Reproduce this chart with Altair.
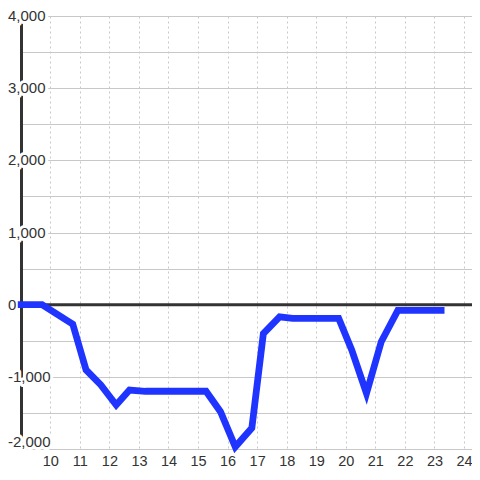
import altair as alt
import pandas as pd

hours = [8.9, 9.72, 10.76, 11.21, 11.71, 12.23, 12.68, 13.22, 15.27, 15.76,
         16.26, 16.82, 17.21, 17.76, 18.20, 19.76, 20.20, 20.70, 21.20, 21.76, 23.34]
values = [0, 0, -270, -905, -1113, -1390, -1183, -1200, -1200, -1483,
          -1970, -1710, -400, -170, -190, -190, -628, -1230, -513, -80, -80]

y_tick_values = [-2000, -1000, 0, 1000, 2000, 3000, 4000]
y_tick_labels = ["-2,000", "-1,000", "0", "1,000", "2,000", "3,000", "4,000"]
y_grid_values = list(range(-2000, 4001, 500))
x_tick_values = list(range(10, 25))

FONT = "Liberation Sans"
TXT = "#333333"

line_df = pd.DataFrame({"hour": hours, "value": values})
ticks_df = pd.DataFrame({"value": y_tick_values, "label": y_tick_labels})
zero_df = pd.DataFrame({"value": [0]})

x_scale = alt.Scale(domain=[9.0085, 24.2707], nice=False, zero=False)
y_scale = alt.Scale(domain=[-2000, 4000], nice=False, zero=False)

x_axis = alt.Axis(values=x_tick_values, grid=True, gridDash=[2, 3], gridColor="#c8c8c8",
                  gridWidth=1, domain=False, ticks=False, labelPadding=5,
                  labelFontSize=14.5, labelFont=FONT, labelColor=TXT, title=None,
                  format="d", labelFlush=False, labelOverlap=False)
y_axis = alt.Axis(values=y_grid_values, grid=True, gridColor="#c8c8c8", gridWidth=1,
                  domain=True, domainColor="#333333", domainWidth=3, ticks=False,
                  labels=False, title=None)


def Y():
    return alt.Y("value:Q", scale=y_scale, axis=y_axis, title=None)


def X():
    return alt.X("hour:Q", scale=x_scale, axis=x_axis, title=None)


def label_layer(test, dy, halo):
    props = dict(align="left", baseline="middle", font=FONT, fontSize=15, dy=dy)
    if halo:
        props.update(fill="white", stroke="white", strokeWidth=6, strokeJoin="round")
    else:
        props.update(fill=TXT)
    return (alt.Chart(ticks_df).transform_filter(test)
            .mark_text(**props)
            .encode(x=alt.value(-13), y=Y(), text="label:N"))


halo_main = label_layer("datum.value != -2000", 0, True)
halo_bottom = label_layer("datum.value == -2000", -7, True)
text_main = label_layer("datum.value != -2000", 0, False)
text_bottom = label_layer("datum.value == -2000", -7, False)

zero_rule = alt.Chart(zero_df).mark_rule(color="#333333", strokeWidth=3).encode(y=Y())

line = alt.Chart(line_df).mark_line(color="#1f35ff", strokeWidth=6.8).encode(x=X(), y=Y())

chart = alt.layer(halo_main, halo_bottom, text_main, text_bottom, zero_rule, line).properties(
    width=451, height=433,
    autosize=alt.AutoSizeParams(type="none"),
    padding={"left": 13, "top": 8, "right": 0, "bottom": 22},
).configure_view(strokeWidth=0)

chart.save("out.html", embed_options={"renderer": "svg", "actions": False})
